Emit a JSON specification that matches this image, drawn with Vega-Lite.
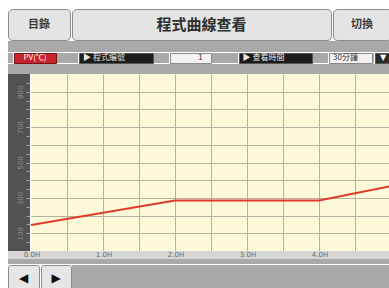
{
  "$schema": "https://vega.github.io/schema/vega-lite/v6.json",
  "background": "#ffffff",
  "padding": {"left": 7, "top": 8, "right": 0, "bottom": 0},
  "config": {
    "view": {"stroke": null},
    "text": {"font": "Noto Sans CJK TC"}
  },
  "spacing": 0,
  "vconcat": [
    {
      "spacing": 0,
      "hconcat": [
        {"width": 62, "height": 31, "data": {"values": [{"label": "目錄"}]},
         "view": {"fill": "#e4e4e4", "stroke": "#8c8c8c", "cornerRadius": 4},
         "mark": {"type": "text", "fontSize": 11, "fontWeight": "bold", "color": "#3a3a3a"},
         "encoding": {"text": {"field": "label"}}},
        {"width": 259, "height": 31, "data": {"values": [{"label": "程式曲線查看"}]},
         "view": {"fill": "#e4e4e4", "stroke": "#8c8c8c", "cornerRadius": 4},
         "mark": {"type": "text", "fontSize": 15, "fontWeight": "bold", "color": "#2e2e2e"},
         "encoding": {"text": {"field": "label"}}},
        {"width": 58, "height": 31, "data": {"values": [{"label": "切換"}]},
         "view": {"fill": "#e4e4e4", "stroke": "#8c8c8c", "cornerRadius": 4},
         "mark": {"type": "text", "fontSize": 11, "fontWeight": "bold", "color": "#3a3a3a"},
         "encoding": {"text": {"field": "label"}}}
      ]
    },
    {"width": 382, "height": 11, "data": {"values": []},
     "view": {"fill": "#a9a9a9"},
     "mark": "text", "encoding": {"text": {"value": ""}}},
    {
      "spacing": 0,
      "hconcat": [
        {"width": 5, "height": 10, "data": {"values": []}, "view": {"fill": "#a9a9a9"},
         "mark": "text", "encoding": {"text": {"value": ""}}},
        {"width": 42, "height": 10, "data": {"values": [{"label": "PV(℃)"}]},
         "view": {"fill": "#c8232c", "stroke": "#7a1212"},
         "mark": {"type": "text", "fontSize": 8, "color": "#ffffff"},
         "encoding": {"text": {"field": "label"}}},
        {"width": 21, "height": 10, "data": {"values": []}, "view": {"fill": "#a9a9a9"},
         "mark": "text", "encoding": {"text": {"value": ""}}},
        {"width": 74, "height": 10, "data": {"values": [{"label": "▶ 程式編號"}]},
         "view": {"fill": "#1c1c1c", "stroke": "#555555"},
         "mark": {"type": "text", "fontSize": 8, "color": "#e8e8e8", "dx": -12},
         "encoding": {"text": {"field": "label"}}},
        {"width": 15, "height": 10, "data": {"values": []}, "view": {"fill": "#a9a9a9"},
         "mark": "text", "encoding": {"text": {"value": ""}}},
        {"width": 41, "height": 10, "data": {"values": [{"label": "1"}]},
         "view": {"fill": "#f2f2f2", "stroke": "#8a8a8a"},
         "mark": {"type": "text", "fontSize": 8, "color": "#333333", "dx": 10},
         "encoding": {"text": {"field": "label"}}},
        {"width": 26, "height": 10, "data": {"values": []}, "view": {"fill": "#a9a9a9"},
         "mark": "text", "encoding": {"text": {"value": ""}}},
        {"width": 73, "height": 10, "data": {"values": [{"label": "▶ 查看時間"}]},
         "view": {"fill": "#1c1c1c", "stroke": "#555555"},
         "mark": {"type": "text", "fontSize": 8, "color": "#e8e8e8", "dx": -12},
         "encoding": {"text": {"field": "label"}}},
        {"width": 15, "height": 10, "data": {"values": []}, "view": {"fill": "#a9a9a9"},
         "mark": "text", "encoding": {"text": {"value": ""}}},
        {"width": 43, "height": 10, "data": {"values": [{"label": "30分鐘"}]},
         "view": {"fill": "#f2f2f2", "stroke": "#8a8a8a"},
         "mark": {"type": "text", "fontSize": 8, "color": "#333333", "dx": -5},
         "encoding": {"text": {"field": "label"}}},
        {"width": 1, "height": 10, "data": {"values": []}, "view": {"fill": "#a9a9a9"},
         "mark": "text", "encoding": {"text": {"value": ""}}},
        {"width": 16, "height": 10, "data": {"values": [{"label": "▼"}]},
         "view": {"fill": "#2a2a2a", "stroke": "#555555"},
         "mark": {"type": "text", "fontSize": 8, "color": "#ffffff", "font": "DejaVu Sans"},
         "encoding": {"text": {"field": "label"}}},
        {"width": 4, "height": 10, "data": {"values": []}, "view": {"fill": "#a9a9a9"},
         "mark": "text", "encoding": {"text": {"value": ""}}}
      ]
    },
    {"width": 382, "height": 10, "data": {"values": []},
     "view": {"fill": "#a9a9a9"},
     "mark": "text", "encoding": {"text": {"value": ""}}},
    {
      "spacing": 0,
      "hconcat": [
        {"width": 22, "height": 177,
         "data": {"values": [{"v": 0}, {"v": 1000}]},
         "view": {"fill": "#525252"},
         "mark": {"type": "point", "opacity": 0, "size": 0},
         "encoding": {
           "y": {"field": "v", "type": "quantitative",
                 "scale": {"domain": [0, 1000], "nice": false, "zero": false},
                 "axis": {"orient": "left", "offset": -22, "domain": false, "grid": false, "title": null,
                          "values": [50,100,150,200,250,300,350,400,450,500,550,600,650,700,750,800,850,900,950],
                          "labelExpr": "datum.value % 200 === 100 ? datum.label : ''",
                          "tickSize": 4, "tickColor": "#a0a0a0", "tickWidth": 1,
                          "labelAngle": 270, "labelFontSize": 7, "labelColor": "#8e8e8e",
                          "labelPadding": 3, "labelFont": "DejaVu Sans"}}
         }},
        {"width": 360, "height": 177,
         "data": {"values": [
           {"t": 0, "pv": 147},
           {"t": 2, "pv": 285},
           {"t": 4, "pv": 285},
           {"t": 5, "pv": 367}
         ]},
         "view": {"fill": "#fbf9d8"},
         "mark": {"type": "line", "color": "#e03a2c", "strokeWidth": 2, "clip": true},
         "encoding": {
           "x": {"field": "t", "type": "quantitative",
                 "scale": {"domain": [0, 5], "nice": false, "zero": false},
                 "axis": {"values": [0.5,1,1.5,2,2.5,3,3.5,4,4.5], "grid": true, "labels": false,
                          "ticks": false, "domain": false, "title": null,
                          "gridColor": "#b4b3a2", "gridOpacity": 1, "gridWidth": 1}},
           "y": {"field": "pv", "type": "quantitative",
                 "scale": {"domain": [0, 1000], "nice": false, "zero": false},
                 "axis": {"values": [100,200,300,400,500,600,700,800,900], "grid": true, "labels": false,
                          "ticks": false, "domain": false, "title": null,
                          "gridColor": "#b4b3a2", "gridOpacity": 1, "gridWidth": 1}}
         }}
      ]
    },
    {"width": 382, "height": 8,
     "data": {"values": [
       {"t": 0, "label": "0.0H"},
       {"t": 1, "label": "1.0H"},
       {"t": 2, "label": "2.0H"},
       {"t": 3, "label": "3.0H"},
       {"t": 4, "label": "4.0H"}
     ]},
     "view": {"fill": "#d6d6d6"},
     "mark": {"type": "text", "fontSize": 7, "color": "#6a6a6a", "font": "DejaVu Sans", "dx": 2},
     "encoding": {
       "x": {"field": "t", "type": "quantitative",
             "scale": {"domain": [-0.30556, 5], "nice": false, "zero": false}, "axis": null},
       "text": {"field": "label"}
     }},
    {"width": 382, "height": 5, "data": {"values": []},
     "view": {"fill": "#a9a9a9"},
     "mark": "text", "encoding": {"text": {"value": ""}}},
    {
      "spacing": 0,
      "hconcat": [
        {"width": 31, "height": 25, "data": {"values": [{"label": "◀"}]},
         "view": {"fill": "#e6e6e6", "stroke": "#8c8c8c", "cornerRadius": 2},
         "mark": {"type": "text", "fontSize": 12, "color": "#111111", "font": "DejaVu Sans"},
         "encoding": {"text": {"field": "label"}}},
        {"width": 30, "height": 25, "data": {"values": [{"label": "▶"}]},
         "view": {"fill": "#e6e6e6", "stroke": "#8c8c8c", "cornerRadius": 2},
         "mark": {"type": "text", "fontSize": 12, "color": "#111111", "font": "DejaVu Sans"},
         "encoding": {"text": {"field": "label"}}},
        {"width": 319, "height": 26, "data": {"values": []},
         "view": {"fill": "#a9a9a9"},
         "mark": "text", "encoding": {"text": {"value": ""}}}
      ]
    }
  ]
}
